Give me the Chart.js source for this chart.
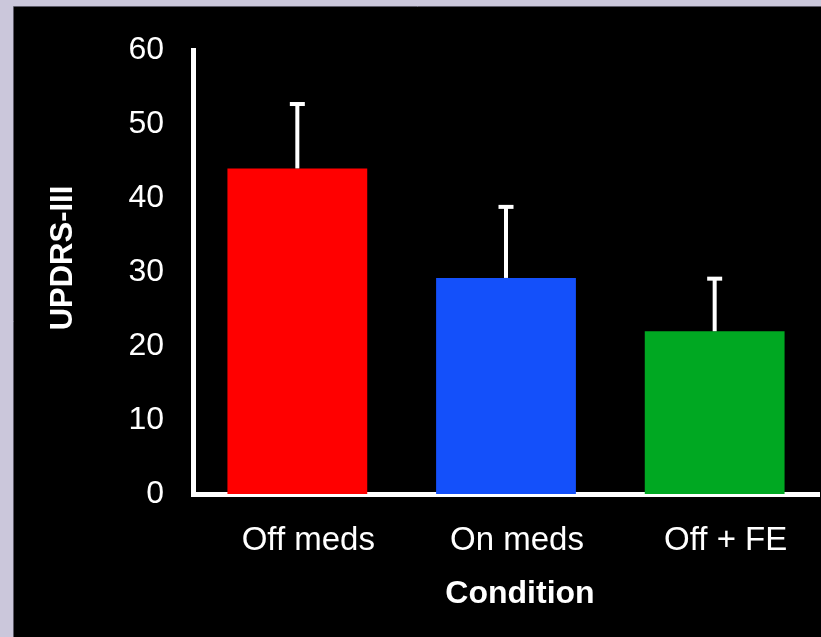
<!DOCTYPE html>
<html>
<head>
<meta charset="utf-8">
<script src="https://cdn.jsdelivr.net/npm/chart.js@4/dist/chart.umd.min.js"></script>
<style>
  html, body { margin: 0; padding: 0; background: #cbc7db; }
  canvas { display: block; }
</style>
</head>
<body>
<canvas id="chart" width="821" height="637"></canvas>
<script>
const conditions = ['Off meds', 'On meds', 'Off + FE'];
const updrsMeans = [44.0, 29.2, 22.0];
const updrsErrors = [8.7, 9.6, 7.1];
const barColors = ['#ff0000', '#1450fa', '#00a822'];
const yTicks = [0, 10, 20, 30, 40, 50, 60];

// lavender frame + black panel
const panelBg = {
  id: 'panelBg',
  beforeDraw(chart) {
    const ctx = chart.ctx;
    ctx.save();
    ctx.fillStyle = '#cbc7db';
    ctx.fillRect(0, 0, chart.width, chart.height);
    ctx.fillStyle = '#000000';
    ctx.fillRect(14, 7, chart.width - 14, chart.height - 7);
    ctx.strokeStyle = '#5c5a68';
    ctx.lineWidth = 1;
    ctx.beginPath();
    ctx.moveTo(13.5, chart.height);
    ctx.lineTo(13.5, 6.5);
    ctx.lineTo(chart.width, 6.5);
    ctx.stroke();
    ctx.restore();
  }
};

// upward-only error bars (stem + cap)
const errorBars = {
  id: 'errorBars',
  afterDatasetsDraw(chart) {
    const ctx = chart.ctx;
    const yScale = chart.scales.y;
    const meta = chart.getDatasetMeta(0);
    ctx.save();
    ctx.fillStyle = '#ffffff';
    meta.data.forEach((bar, i) => {
      const top = yScale.getPixelForValue(updrsMeans[i] + updrsErrors[i]);
      const x = bar.x;
      ctx.fillRect(x - 2, top, 4, bar.y - top);
      ctx.fillRect(x - 7.5, top - 2, 15, 4);
    });
    ctx.restore();
  }
};

// axis titles (shifted like the original)
const axisTitles = {
  id: 'axisTitles',
  afterDraw(chart) {
    const ctx = chart.ctx;
    ctx.save();
    ctx.fillStyle = '#ffffff';
    ctx.textAlign = 'center';
    ctx.textBaseline = 'middle';
    ctx.font = 'bold 32px "Liberation Sans", Arial, sans-serif';
    ctx.fillText('Condition', 520, 594);
    ctx.translate(63, 258);
    ctx.rotate(-Math.PI / 2);
    ctx.font = 'bold 31px "Liberation Sans", Arial, sans-serif';
    ctx.fillText('UPDRS-III', 0, 0);
    ctx.restore();
  }
};

const ctx = document.getElementById('chart').getContext('2d');

new Chart(ctx, {
  type: 'bar',
  data: {
    labels: conditions,
    datasets: [
      {
        label: 'UPDRS-III',
        data: updrsMeans,
        backgroundColor: barColors,
        borderWidth: 0,
        barPercentage: 0.67,
        categoryPercentage: 1.0,
      },
    ],
  },
  options: {
    responsive: false,
    animation: false,
    layout: { padding: { top: 50, right: 2, left: 0, bottom: 0 } },
    plugins: {
      legend: { display: false },
      tooltip: { enabled: false },
    },
    scales: {
      x: {
        afterFit(scale) { scale.height = 143; },
        border: { display: true, color: '#ffffff', width: 5 },
        grid: {
          drawOnChartArea: false,
          drawTicks: true,
          tickLength: 3,
          lineWidth: 2,
          color: (c) => (c.index === 0 || c.index === conditions.length ? 'rgba(0,0,0,0)' : '#8a8a8a'),
        },
        ticks: {
          color: '#ffffff',
          padding: 24,
          labelOffset: 11,
          font: { family: '"Liberation Sans", Arial, sans-serif', size: 33 },
        },
      },
      y: {
        min: 0,
        max: 60,
        afterFit(scale) { scale.width = 193; },
        afterBuildTicks(scale) { scale.ticks = yTicks.map((v) => ({ value: v })); },
        border: { display: true, color: '#ffffff', width: 5 },
        grid: { display: false },
        ticks: {
          color: '#ffffff',
          padding: 21,
          font: { family: '"Liberation Sans", Arial, sans-serif', size: 32 },
        },
      },
    },
  },
  plugins: [panelBg, errorBars, axisTitles],
});
</script>
</body>
</html>
